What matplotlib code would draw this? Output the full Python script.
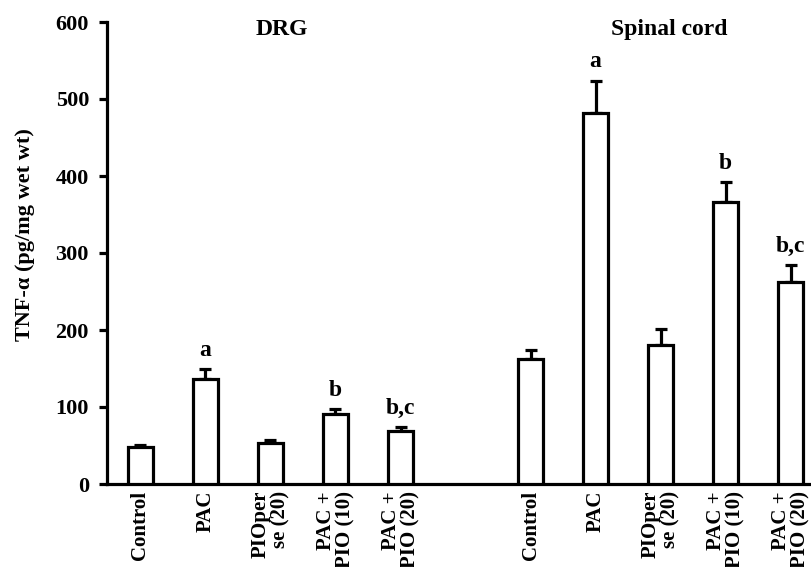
import matplotlib
matplotlib.use("Agg")
import matplotlib.pyplot as plt
import numpy as np

plt.rcParams['font.family'] = ['Liberation Serif', 'DejaVu Serif']
plt.rcParams['font.weight'] = 'bold'

groups = ["DRG", "Spinal cord"]
categories = ["Control", "PAC", "PIOper\nse (20)", "PAC +\nPIO (10)", "PAC +\nPIO (20)"]
drg_mean = [48, 137, 53, 91, 69]
drg_err = [3, 12, 4, 6, 5]
sc_mean = [162, 482, 180, 366, 262]
sc_err = [12, 42, 21, 26, 22]
drg_sig = ["", "a", "", "b", "b,c"]
sc_sig = ["", "a", "", "b", "b,c"]

fig = plt.figure(figsize=(8.12, 5.67), dpi=100)
ax = fig.add_axes([107/812, 1-484/567, 1-107/812, (484-22)/567])

x_drg = np.arange(5)
x_sc = np.arange(5) + 6
means = drg_mean + sc_mean
errs = drg_err + sc_err
sigs = drg_sig + sc_sig
xs = np.concatenate([x_drg, x_sc])

ax.bar(xs, means, width=0.385, color='white', edgecolor='black', linewidth=2.3, zorder=3)
ax.errorbar(xs, means, yerr=[np.zeros(len(errs)), errs], fmt='none', ecolor='black',
            elinewidth=2.3, capsize=4, capthick=2.3, zorder=2)

for x, m, e, s in zip(xs, means, errs, sigs):
    if s:
        ax.text(x, m + e + 11, s, ha='center', va='bottom', fontsize=17, fontweight='bold')

ax.text(2.18, 590, groups[0], ha='center', va='center', fontsize=17, fontweight='bold')
ax.text(8.13, 590, groups[1], ha='center', va='center', fontsize=17, fontweight='bold')

ax.set_xlim(-0.515, 10.33)
ax.set_ylim(0, 600)
ax.set_yticks([0, 100, 200, 300, 400, 500, 600])
ax.set_xticks(xs)
ax.set_xticklabels(categories * 2, rotation=90, fontsize=15, fontweight='bold',
                   va='top', ha='center', multialignment='right', linespacing=0.95)
ax.tick_params(axis='x', length=0, pad=5)
ax.tick_params(axis='y', direction='out', length=6, width=2.3, labelsize=16, pad=7)
for lab in ax.get_yticklabels():
    lab.set_fontweight('bold')

ax.spines['top'].set_visible(False)
ax.spines['right'].set_visible(False)
ax.spines['left'].set_linewidth(2.3)
ax.spines['bottom'].set_linewidth(2.3)

ax.set_ylabel("TNF-α (pg/mg wet wt)", fontsize=16, fontweight='bold')
ax.yaxis.set_label_coords(-0.102, 0.54)

fig.savefig("out.png", dpi=100)
